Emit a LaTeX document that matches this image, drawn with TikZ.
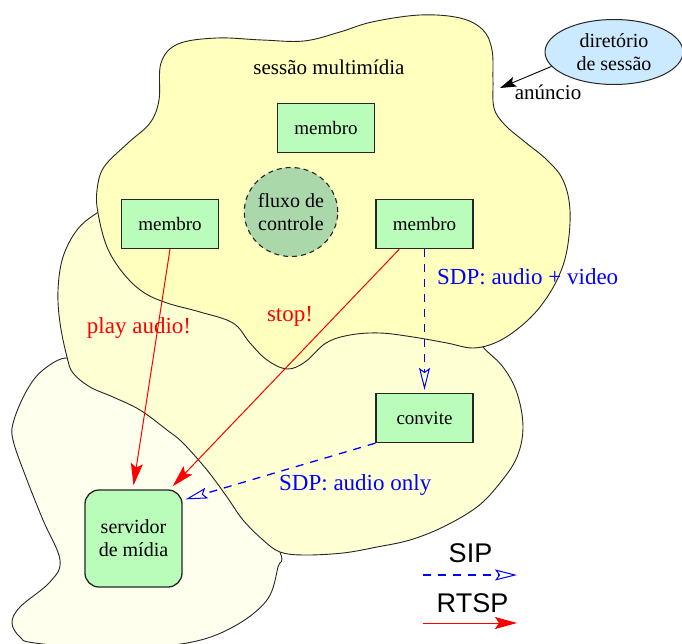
\documentclass[tikz,border=0pt]{standalone}
\usepackage{fontspec}
\setmainfont{Liberation Serif}
\newfontfamily\legendfont{Liberation Sans}
\usetikzlibrary{arrows.meta,calc,shapes.geometric}

\definecolor{sessfill}{RGB}{255,255,190}
\definecolor{midfill}{RGB}{255,255,212}
\definecolor{lowfill}{RGB}{255,255,238}
\definecolor{boxfill}{RGB}{186,252,186}
\definecolor{ctrlfill}{RGB}{170,216,170}
\definecolor{dirfill}{RGB}{204,234,255}
\definecolor{sipblue}{RGB}{0,0,255}
\definecolor{rtspred}{RGB}{255,0,0}

\begin{document}
\begin{tikzpicture}[x=1pt,y=-1pt,
  region/.style={draw=black!85, line width=0.9pt, fill=#1},
  member/.style={draw=black!85, line width=1.3pt, fill=boxfill,
    minimum width=97pt, minimum height=49pt, inner sep=0pt,
    font=\fontsize{19}{23}\selectfont},
  server/.style={draw=black!85, line width=1.3pt, fill=boxfill,
    rounded corners=14pt, minimum width=97pt, minimum height=97pt,
    inner sep=0pt, align=center, font=\fontsize{20}{23}\selectfont},
  ctrl/.style={ellipse, draw=black!85, line width=1.1pt,
    dash pattern=on 5pt off 4pt, fill=ctrlfill,
    minimum width=88pt, minimum height=89pt, inner sep=0pt,
    align=center, font=\fontsize{20}{23}\selectfont},
  dirnode/.style={ellipse, draw=black!85, line width=1pt, fill=dirfill,
    minimum width=138pt, minimum height=65pt, inner sep=0pt,
    align=center, font=\fontsize{20}{23}\selectfont},
  plain/.style={inner sep=0pt, font=\fontsize{21}{25}\selectfont},
  redlabel/.style={inner sep=0pt, text=rtspred, font=\fontsize{23}{27}\selectfont},
  bluelabel/.style={inner sep=0pt, text=sipblue, font=\fontsize{23}{27}\selectfont},
  legend/.style={inner sep=0pt, font=\legendfont\fontsize{27}{31}\selectfont},
  rtsp/.style={draw=rtspred, line width=1pt,
    -{Stealth[length=22pt,width=12pt,inset=4pt]}},
  sip/.style={draw=sipblue, line width=1.3pt, dash pattern=on 8pt off 7pt,
    -{Stealth[open,length=22pt,width=11pt,inset=4pt,line width=1pt]}},
  announce/.style={draw=black, line width=0.9pt,
    -{Stealth[length=16pt,width=10pt,inset=3pt]}}
]
\useasboundingbox (0,0) rectangle (682,644);

% lowest region (media server side)
\draw[region=lowfill] plot[smooth cycle, tension=0.6] coordinates {
  (90,372) (150,405) (250,490)
  (280,552) (278,567) (267,600) (233,627) (187,643) (110,649) (35,643)
  (20,637) (12,623) (20,607) (50,582) (60,560) (43,520) (27,480)
  (13,440) (14,420) (27,390) (43,370) (67,358)};

% middle region (invitation side)
\draw[region=midfill] plot[smooth cycle, tension=0.6] coordinates {
  (130,195) (300,250) (460,318)
  (483,347) (503,367) (517,393) (523,427) (517,457) (500,483) (477,507)
  (443,527) (410,540) (377,547) (343,553) (304,555) (280,552) (263,540)
  (243,520) (227,497) (207,470) (183,443) (167,430) (140,410) (113,397)
  (90,387) (73,373) (67,357) (60,323) (58,290) (63,257) (77,230) (97,213)};

% multimedia session region
\draw[region=sessfill] plot[smooth cycle, tension=0.6] coordinates {
  (161,63) (178,44) (217,38) (262,40) (304,41) (340,32) (372,22) (420,15)
  (460,18) (483,30) (492,50) (493,80) (494,108) (505,125) (525,142)
  (547,160) (563,180) (570,210) (567,250) (557,280) (540,307) (520,327)
  (497,342) (473,348) (447,343) (413,337) (380,333) (350,335) (326,343)
  (305,362) (287,369) (267,360) (250,343) (233,323) (200,312) (167,303)
  (143,292) (123,273) (107,247) (98,213) (97,190) (104,167) (128,143)
  (150,123) (159,100)};

% nodes
\node[plain, anchor=base] (title) at (329,75) {sessão multimídia};
\node[member] (mt) at (326,128) {membro};
\node[member] (ml) at (170,224) {membro};
\node[member] (mr) at (424.5,224) {membro};
\node[ctrl] (fc) at (291,212) {fluxo de\\controle};
\node[member] (cv) at (424.5,418) {convite};
\node[server] (srv) at (133.5,538.5) {servidor\\de mídia};
\node[dirnode] (dir) at (614,52) {diretório\\de sessão};
\node[plain, anchor=base] (annlbl) at (548,100) {anúncio};

% labels
\node[redlabel, anchor=base] (play) at (139,333) {play audio!};
\node[redlabel, anchor=base] (stop) at (290,321) {stop!};
\node[bluelabel, anchor=base west] (sdpav) at (437,284) {SDP: audio + video};
\node[bluelabel, anchor=base west] (sdpao) at (279,490) {SDP: audio only};

% announcement
\coordinate (annc) at (500,88);
\draw[announce] (dir.193) -- (annc);

% RTSP requests
\draw[rtsp] (ml.south) -- ($(srv.north)+(0,-4)$);
\draw[rtsp] ($(mr.south west)+(24,0)$) -- ($(srv.north east)+(-10,-3)$);

% SIP messages
\draw[sip] (mr.south) -- ($(cv.north)+(0,-3)$);
\draw[sip] (cv.south west) -- ($(srv.north east)+(3,10)$);

% legend
\node[legend, anchor=base] (sip) at (470.5,562) {SIP};
\node[legend, anchor=base] (rtspl) at (472.5,612) {RTSP};
\coordinate (sipa) at (423,575);
\coordinate (sipb) at (517,575);
\coordinate (rtspa) at (423,623);
\coordinate (rtspb) at (517,623);
\draw[sip] (sipa) -- (sipb);
\draw[rtsp] (rtspa) -- (rtspb);
\end{tikzpicture}
\end{document}
